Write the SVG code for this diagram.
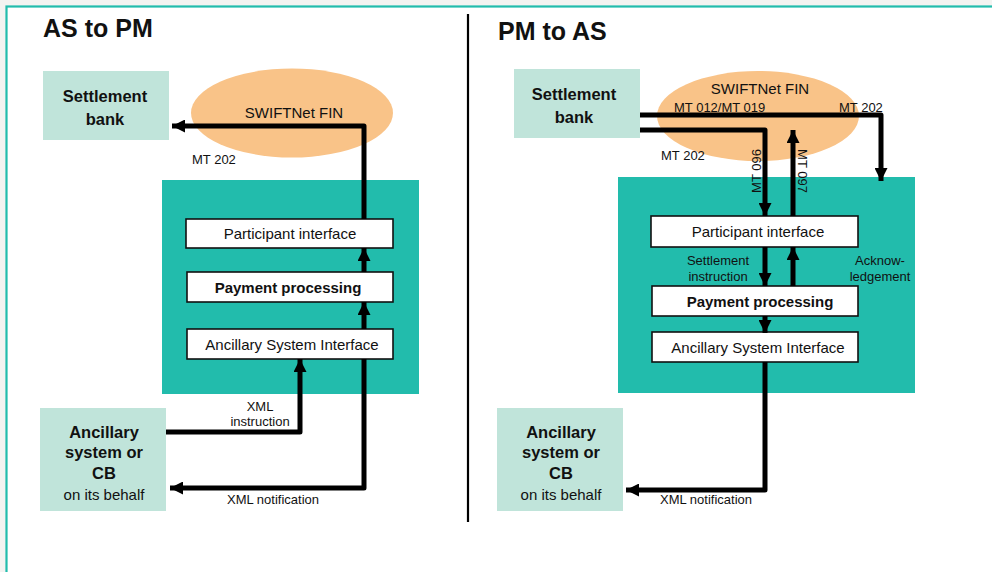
<svg xmlns="http://www.w3.org/2000/svg" width="992" height="572" viewBox="0 0 992 572">
<defs>
<style>
text{font-family:"Liberation Sans",Arial,sans-serif;fill:#111}
.title{font-size:25px;font-weight:bold}
.ext{fill:#c0e4da}
.ext-b{font-size:16.5px;font-weight:bold;text-anchor:middle}
.ext-n{font-size:15px;text-anchor:middle}
.ell{fill:#f9c388}
.sys{fill:#22bcac}
.box{fill:#fff;stroke:#111;stroke-width:1.6}
.bt{font-size:15px;text-anchor:middle}
.bb{font-size:15px;font-weight:bold;text-anchor:middle}
.lbl{font-size:13px}
.lblc{font-size:13px;text-anchor:middle}
.conn{fill:none;stroke:#000;stroke-width:5;stroke-linejoin:round}
</style>
<marker id="ah" viewBox="0 0 10 10" refX="10" refY="5" markerWidth="2.6" markerHeight="2.6" markerUnits="strokeWidth" orient="auto">
<path d="M0,0 L10,5 L0,10 z" fill="#000"/>
</marker>
</defs>
<rect x="0" y="0" width="992" height="572" fill="#f3f3f1"/>
<rect x="6.5" y="6.5" width="1000" height="600" fill="#fff" stroke="#22bcac" stroke-width="2.2"/>
<line x1="468" y1="14" x2="468" y2="522" stroke="#000" stroke-width="2.2"/>

<text class="title" x="43" y="37">AS to PM</text>
<text class="title" x="498" y="40">PM to AS</text>

<!-- Left panel nodes -->
<g id="l-bank"><rect class="ext" x="43" y="71" width="126" height="69"/><text class="ext-b" x="105" y="102">Settlement</text><text class="ext-b" x="105" y="125">bank</text></g>
<g id="l-swift"><ellipse class="ell" cx="292" cy="113" rx="101" ry="44.5"/><text class="bt" x="294" y="118">SWIFTNet FIN</text></g>
<g id="l-pm"><rect class="sys" x="162" y="180" width="257" height="214"/></g>
<g id="l-pi"><rect class="box" x="186" y="219" width="207" height="29"/><text class="bt" x="290" y="239">Participant interface</text></g>
<g id="l-pp"><rect class="box" x="187" y="272" width="206" height="30"/><text class="bb" x="288" y="293">Payment processing</text></g>
<g id="l-asi"><rect class="box" x="187" y="329" width="206" height="30"/><text class="bt" x="292" y="350">Ancillary System Interface</text></g>
<g id="l-as"><rect class="ext" x="40" y="408" width="126" height="103"/><text class="ext-b" x="104" y="438">Ancillary</text><text class="ext-b" x="104" y="458">system or</text><text class="ext-b" x="104" y="479">CB</text><text class="ext-n" x="104" y="500">on its behalf</text></g>

<!-- Right panel nodes -->
<g id="r-bank"><rect class="ext" x="514" y="69" width="126" height="69"/><text class="ext-b" x="574" y="100">Settlement</text><text class="ext-b" x="574" y="123">bank</text></g>
<g id="r-swift"><ellipse class="ell" cx="758" cy="116" rx="101" ry="45"/><text class="bt" x="760" y="94">SWIFTNet FIN</text></g>
<g id="r-pm"><rect class="sys" x="618" y="177" width="297" height="216"/></g>
<g id="r-pi"><rect class="box" x="651" y="216" width="207" height="31"/><text class="bt" x="758" y="237">Participant interface</text></g>
<g id="r-pp"><rect class="box" x="652" y="286" width="206" height="30"/><text class="bb" x="760" y="307">Payment processing</text></g>
<g id="r-asi"><rect class="box" x="652" y="332" width="206" height="30"/><text class="bt" x="758" y="353">Ancillary System Interface</text></g>
<g id="r-as"><rect class="ext" x="497" y="408" width="126" height="103"/><text class="ext-b" x="561" y="438">Ancillary</text><text class="ext-b" x="561" y="458">system or</text><text class="ext-b" x="561" y="479">CB</text><text class="ext-n" x="561" y="500">on its behalf</text></g>

<!-- Connectors -->
<g id="connectors">
<path class="conn" d="M364,219 V126 H172" marker-end="url(#ah)"/>
<path class="conn" d="M364,272 V248" marker-end="url(#ah)"/>
<path class="conn" d="M364,329 V302" marker-end="url(#ah)"/>
<path class="conn" d="M166,432 H300 V359" marker-end="url(#ah)"/>
<path class="conn" d="M364,359 V488 H170" marker-end="url(#ah)"/>

<path class="conn" d="M640,115 H881 V181" marker-end="url(#ah)"/>
<path class="conn" d="M640,130 H765 V216" marker-end="url(#ah)"/>
<path class="conn" d="M793,216 V130" marker-end="url(#ah)"/>
<path class="conn" d="M765,247 V286" marker-end="url(#ah)"/>
<path class="conn" d="M793,286 V247" marker-end="url(#ah)"/>
<path class="conn" d="M765,316 V333" marker-end="url(#ah)"/>
<path class="conn" d="M765,362 V490 H626" marker-end="url(#ah)"/>
</g>

<!-- Connector labels -->
<text class="lbl" x="192" y="164">MT 202</text>
<text class="lblc" x="260" y="411">XML</text>
<text class="lblc" x="260" y="426">instruction</text>
<text class="lblc" x="273" y="504">XML notification</text>

<text class="lbl" x="674" y="112">MT 012/MT 019</text>
<text class="lbl" x="839" y="112">MT 202</text>
<text class="lbl" x="661" y="160">MT 202</text>
<text class="lblc" transform="translate(761,171) rotate(-90)">MT 096</text>
<text class="lblc" transform="translate(798,171) rotate(90)">MT 097</text>
<text class="lblc" x="718" y="265">Settlement</text>
<text class="lblc" x="718" y="281">instruction</text>
<text class="lblc" x="880" y="265">Acknow-</text>
<text class="lblc" x="880" y="281">ledgement</text>
<text class="lblc" x="706" y="504">XML notification</text>
</svg>
